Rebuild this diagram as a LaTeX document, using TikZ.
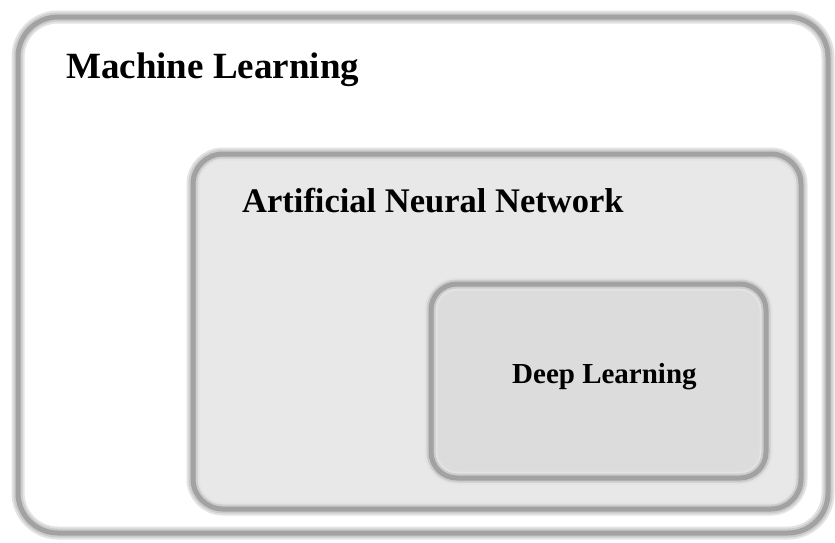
\documentclass[tikz,border=0pt]{standalone}
\usepackage{fontspec}
\setmainfont{Liberation Serif}
\definecolor{edgegray}{HTML}{A2A2A2}
\definecolor{midfill}{HTML}{E8E8E8}
\definecolor{innerfill}{HTML}{DCDCDC}
\tikzset{
  glowbox/.style={draw=gray!22, line width=13pt},
  softbox/.style={draw=gray!40, line width=9pt},
  corebox/.style={draw=edgegray, line width=5pt},
  lbl/.style={anchor=base west, inner sep=0pt, font=\bfseries}
}
\begin{document}
\begin{tikzpicture}[x=1pt,y=-1pt]
\useasboundingbox (0,0) rectangle (835,542);
\fill[white] (0,0) rectangle (835,542);
% outer box
\foreach \s in {glowbox,softbox,corebox}
  \draw[\s, rounded corners=40pt] (18,17) rectangle (828,533);
% middle box
\fill[midfill, rounded corners=30pt] (193,154) rectangle (801,509);
\foreach \s in {glowbox,softbox,corebox}
  \draw[\s, rounded corners=30pt] (193,154) rectangle (801,509);
% inner box
\fill[innerfill, rounded corners=26pt] (431,284) rectangle (766,478);
\foreach \s in {glowbox,softbox,corebox}
  \draw[\s, rounded corners=26pt] (431,284) rectangle (766,478);
\node[lbl, font=\bfseries\fontsize{37}{40}\selectfont] (ml) at (66,78) {Machine Learning};
\node[lbl, font=\bfseries\fontsize{34.5}{38}\selectfont] (ann) at (242,212) {Artificial Neural Network};
\node[lbl, font=\bfseries\fontsize{29}{32}\selectfont] (dl) at (512,383) {Deep Learning};
\end{tikzpicture}
\end{document}
